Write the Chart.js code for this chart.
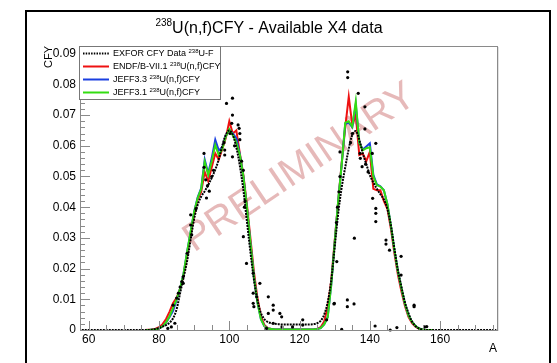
<!DOCTYPE html>
<html><head><meta charset="utf-8">
<script src="https://cdn.jsdelivr.net/npm/chart.js@4.4.0/dist/chart.umd.min.js"></script>
<style>html,body{margin:0;padding:0;background:#fff;overflow:hidden}#wrap{width:557px;height:363px}</style>
</head><body><div id="wrap"><canvas id="c" width="557" height="363"></canvas></div>
<script>
// ---- data ----
const evalA = [76,77,78,79,80,81,82,83,84,85,86,87,88,89,90,91,92,93,94,95,96,97,98,99,100,101,102,103,104,105,106,107,108,109,110,111,112,113,114,115,116,117,118,119,120,121,122,123,124,125,126,127,128,129,130,131,132,133,134,135,136,137,138,139,140,141,142,143,144,145,146,147,148,149,150,151,152,153,154,155,156,157,158];
const endfY = [0,0.0001,0.0002,0.0004,0.0009,0.0019,0.0036,0.0060,0.0088,0.0105,0.0135,0.0180,0.0245,0.0310,0.0375,0.0425,0.0450,0.0515,0.0485,0.0530,0.0575,0.0555,0.0590,0.0625,0.0680,0.0640,0.0650,0.0575,0.0505,0.0410,0.0300,0.0190,0.0105,0.0045,0.0016,0.0006,0.0003,0.0002,0.0002,0.0002,0.0002,0.0002,0.0002,0.0002,0.0002,0.0002,0.0002,0.0002,0.0002,0.0004,0.0009,0.0028,0.0075,0.0160,0.0290,0.0420,0.0545,0.0660,0.0760,0.0668,0.0700,0.0570,0.0575,0.0550,0.0580,0.0460,0.0455,0.0455,0.0420,0.0395,0.0330,0.0250,0.0180,0.0125,0.0078,0.0043,0.0022,0.0011,0.0004,0.0001,0,0,0];
const jeff33Y = [0,0,0.0001,0.0002,0.0005,0.0012,0.0024,0.0042,0.0062,0.0098,0.0135,0.0185,0.0255,0.0320,0.0385,0.0432,0.0462,0.0555,0.0510,0.0560,0.0620,0.0585,0.0595,0.0632,0.0652,0.0640,0.0625,0.0572,0.0500,0.0400,0.0285,0.0175,0.0090,0.0035,0.0012,0.0005,0.0003,0.0002,0.0002,0.0002,0.0002,0.0002,0.0002,0.0002,0.0002,0.0002,0.0002,0.0002,0.0002,0.0003,0.0006,0.0018,0.0042,0.0145,0.0285,0.0420,0.0540,0.0672,0.0675,0.0660,0.0735,0.0610,0.0588,0.0598,0.0608,0.0505,0.0474,0.0468,0.0455,0.0410,0.0340,0.0260,0.0190,0.0136,0.0085,0.0048,0.0026,0.0013,0.0005,0.0002,0,0,0];
const jeff31Y = [0,0,0.0001,0.0002,0.0005,0.0012,0.0025,0.0045,0.0072,0.0100,0.0135,0.0185,0.0255,0.0320,0.0385,0.0430,0.0460,0.0548,0.0505,0.0550,0.0603,0.0570,0.0590,0.0630,0.0654,0.0635,0.0610,0.0570,0.0500,0.0400,0.0285,0.0175,0.0090,0.0035,0.0012,0.0005,0.0003,0.0002,0.0002,0.0002,0.0002,0.0002,0.0002,0.0002,0.0002,0.0002,0.0002,0.0002,0.0002,0.0003,0.0006,0.0018,0.0042,0.0145,0.0285,0.0420,0.0540,0.0675,0.0680,0.0662,0.0744,0.0610,0.0585,0.0592,0.0595,0.0500,0.0472,0.0467,0.0455,0.0410,0.0340,0.0260,0.0190,0.0136,0.0085,0.0048,0.0026,0.0013,0.0005,0.0002,0,0,0];
const exforLineA = [58,60,62,64,66,68,70,72,74,76,77,78,79,80,81,82,83,84,85,86,87,88,89,90,91,92,93,94,95,96,97,98,99,100,101,102,103,104,105,106,107,108,109,110,111,112,113,114,115,116,117,118,119,120,121,122,123,124,125,126,127,128,129,130,131,132,133,134,135,136,137,138,139,140,141,142,143,144,145,146,147,148,149,150,151,152,153,154,155,156,157,158,160,162,164,166,168,170,172,174,176];
const exforLineY = [0,0,0,0,0,0,0,0,0,0,0,0.0001,0.0003,0.0006,0.0011,0.0016,0.0024,0.0038,0.0068,0.0120,0.0172,0.0225,0.0295,0.0362,0.0408,0.0435,0.0452,0.0472,0.0496,0.0522,0.0556,0.0600,0.0636,0.0650,0.0635,0.0595,0.0535,0.0456,0.0355,0.0255,0.0165,0.0098,0.0055,0.0035,0.0026,0.0022,0.0020,0.0019,0.0018,0.0018,0.0018,0.0018,0.0018,0.0018,0.0018,0.0018,0.0018,0.0019,0.0022,0.0030,0.0050,0.0090,0.0160,0.0270,0.0380,0.0465,0.0530,0.0590,0.0635,0.0648,0.0620,0.0575,0.0540,0.0505,0.0480,0.0460,0.0442,0.0425,0.0395,0.0340,0.0265,0.0195,0.0140,0.0090,0.0055,0.0028,0.0013,0.0005,0.0002,0,0,0,0,0,0,0,0,0,0,0,0];
const exforA = [84.0,84.5,85.0,85.5,86.0,86.5,86.9,86.9,83.5,82.5,89.0,89.0,89.3,88.0,90.5,92.8,92.8,93.3,93.8,94.3,93.5,95.0,95.5,98.7,98.7,98.5,99.2,100.9,100.9,100.7,100.2,100.9,101.5,102.5,102.8,103.0,103.0,104.0,103.5,104.5,104.3,104.0,104.9,106.8,106.8,107.8,106.8,107.0,108.7,111.1,112.5,112.5,111.1,114.4,114.9,112.5,120.9,120.9,110.6,115.0,118.0,127.7,129.8,133.6,133.6,135.5,141.5,145.8,147.7,152.6,152.6,156.2,155.6,132.0,133.7,133.7,136.7,138.6,138.6,141.7,140.7,137.2,137.3,137.8,138.8,139.5,131.5,131.5,131.2,140.8,141.7,141.7,141.7,144.6,144.6,145.6,148.9,148.9,135.6,130.6,129.9,130.5,130.8,135.0,134.5];
const exforY = [0.0081,0.0022,0.0104,0.0120,0.0140,0.0158,0.0174,0.0152,0.0010,0.0005,0.0375,0.0342,0.0310,0.0250,0.0395,0.0575,0.0530,0.0489,0.0470,0.0452,0.0430,0.0500,0.0520,0.0586,0.0570,0.0610,0.0738,0.0755,0.0700,0.0673,0.0640,0.0564,0.0600,0.0668,0.0657,0.0640,0.0620,0.0520,0.0550,0.0420,0.0400,0.0304,0.0217,0.0185,0.0120,0.0108,0.0087,0.0076,0.0152,0.0108,0.0081,0.0065,0.0054,0.0054,0.0043,0.0022,0.0033,0.0016,0.0005,0.0010,0.0010,0.0033,0.0085,0.0098,0.0076,0.0085,0.0013,0.0000,0.0008,0.0081,0.0076,0.0011,0.0010,0.0002,0.0841,0.0822,0.0771,0.0727,0.0655,0.0608,0.0575,0.0575,0.0559,0.0532,0.0540,0.0515,0.0580,0.0500,0.0450,0.0429,0.0396,0.0380,0.0353,0.0293,0.0280,0.0260,0.0240,0.0179,0.0299,0.0223,0.0087,0.0350,0.0400,0.0640,0.0610];
const xTickLabels = [60,80,100,120,140,160];
const yTickLabels = [0,0.01,0.02,0.03,0.04,0.05,0.06,0.07,0.08,0.09];
const legendNames = [["EXFOR CFY Data ","238","U-F"],["ENDF/B-VII.1 ","238","U(n,f)CFY"],["JEFF3.3 ","238","U(n,f)CFY"],["JEFF3.1 ","238","U(n,f)CFY"]];

const FONT = '"Liberation Sans", Arial, Helvetica, sans-serif';
const pts = (xs, ys) => xs.map((x, i) => ({x: x, y: ys[i]}));

function richText(ctx, parts, x, y, size, supSize, supRise) {
  // parts: [normal, sup, normal]
  let cx = x;
  parts.forEach((p, i) => {
    const sup = (i === 1);
    ctx.font = (sup ? supSize : size) + 'px ' + FONT;
    ctx.fillText(p, cx, sup ? y - supRise : y);
    cx += ctx.measureText(p).width;
  });
  return cx - x;
}
function richWidth(ctx, parts, size, supSize) {
  let w = 0;
  parts.forEach((p, i) => { ctx.font = (i === 1 ? supSize : size) + 'px ' + FONT; w += ctx.measureText(p).width; });
  return w;
}

const deco = {
  id: 'deco',
  beforeDraw(chart) {
    const ctx = chart.ctx;
    ctx.save(); ctx.fillStyle = '#fff'; ctx.fillRect(0, 0, chart.width, chart.height); ctx.restore();
  },
  beforeDatasetsDraw(chart) {
    const ctx = chart.ctx;
    ctx.save();
    ctx.translate(300, 168);
    ctx.rotate(-34 * Math.PI / 180);
    ctx.font = '40px ' + FONT;
    ctx.fillStyle = 'rgba(190,70,70,0.38)';
    ctx.textAlign = 'center'; ctx.textBaseline = 'middle';
    ctx.fillText('PRELIMINARY', 0, 0);
    ctx.restore();
  },
  afterDatasetsDraw(chart) {
    const ctx = chart.ctx, a = chart.chartArea;
    const xs = chart.scales.x, ys = chart.scales.y;
    ctx.save();
    // frame
    ctx.strokeStyle = '#8a8a8a'; ctx.lineWidth = 1;
    ctx.strokeRect(Math.round(a.left) + 0.5, Math.round(a.top) + 0.5, Math.round(a.right - a.left), Math.round(a.bottom - a.top));
    ctx.strokeStyle = '#e2e2e2';
    ctx.beginPath(); ctx.moveTo(Math.round(a.right) + 1.5, a.top + 1); ctx.lineTo(Math.round(a.right) + 1.5, a.bottom + 1); ctx.stroke();
    // ticks
    ctx.strokeStyle = '#8a8a8a';
    ctx.beginPath();
    for (let v = 0; v <= 0.0925 + 1e-9; v += 0.002) {
      const yy = Math.round(ys.getPixelForValue(v)) + 0.5;
      const major = Math.abs(v / 0.01 - Math.round(v / 0.01)) < 1e-6;
      ctx.moveTo(a.left, yy); ctx.lineTo(a.left + (major ? 10 : 5), yy);
    }
    for (let v = 60; v <= 175; v += 5) {
      const xx = Math.round(xs.getPixelForValue(v)) + 0.5;
      const major = v % 20 === 0;
      ctx.moveTo(xx, a.bottom); ctx.lineTo(xx, a.bottom - (major ? 9 : 5));
    }
    ctx.stroke();
    // tick labels
    ctx.fillStyle = '#000';
    ctx.font = '12px ' + FONT;
    ctx.textAlign = 'right'; ctx.textBaseline = 'middle';
    yTickLabels.forEach(v => ctx.fillText(String(v), a.left - 4, ys.getPixelForValue(v)));
    ctx.textAlign = 'center'; ctx.textBaseline = 'top';
    xTickLabels.forEach(v => ctx.fillText(String(v), xs.getPixelForValue(v), a.bottom + 4));
    // axis titles
    ctx.textAlign = 'right'; ctx.textBaseline = 'middle';
    ctx.fillText('A', a.right, 349);
    ctx.save();
    ctx.translate(49, a.top);
    ctx.rotate(-Math.PI / 2);
    ctx.font = '11px ' + FONT;
    ctx.textAlign = 'right';
    ctx.fillText('CFY', 0, 0);
    ctx.restore();
    // title
    ctx.textAlign = 'left'; ctx.textBaseline = 'alphabetic';
    const tparts = ['', '238', 'U(n,f)CFY - Available X4 data'];
    const tw = richWidth(ctx, tparts, 16, 10);
    richText(ctx, tparts, 269 - tw / 2, 33, 16, 10, 7);
    // legend
    const lx = 79.5, ly = 46.5, lw = 141, lh = 53;
    ctx.fillStyle = '#fff'; ctx.fillRect(lx, ly, lw, lh);
    ctx.strokeStyle = '#777'; ctx.lineWidth = 1; ctx.strokeRect(lx, ly, lw, lh);
    const cols = ['#000', '#ee1111', '#1a3fe0', '#33dd11'];
    legendNames.forEach((parts, i) => {
      const yy = 53.5 + i * 13;
      ctx.save();
      ctx.strokeStyle = cols[i]; ctx.lineWidth = 2;
      if (i === 0) ctx.setLineDash([1.5, 1.2]);
      ctx.beginPath(); ctx.moveTo(83, yy); ctx.lineTo(109, yy); ctx.stroke();
      ctx.restore();
      ctx.fillStyle = '#000'; ctx.textBaseline = 'middle'; ctx.textAlign = 'left';
      richText(ctx, parts, 113, yy + 0.5, 9, 6, 3);
    });
    // outer frame
    ctx.strokeStyle = '#000'; ctx.lineWidth = 2;
    ctx.strokeRect(26, 11, 524, 400);
    ctx.restore();
  }
};

new Chart(document.getElementById('c'), {
  type: 'scatter',
  data: {
    datasets: [
      {label: 'EXFOR points', data: pts(exforA, exforY), showLine: false, pointRadius: 1.6, pointBackgroundColor: '#000', pointBorderWidth: 0, clip: false},
      {label: 'EXFOR CFY Data 238U-F', data: pts(exforLineA, exforLineY), showLine: true, borderColor: '#000', borderWidth: 2, borderDash: [2, 1], pointRadius: 0, tension: 0.35, clip: false},
      {label: 'JEFF3.1 238U(n,f)CFY', data: pts(evalA, jeff31Y), showLine: true, borderColor: '#33dd11', borderWidth: 2, pointRadius: 0, tension: 0, clip: false},
      {label: 'JEFF3.3 238U(n,f)CFY', data: pts(evalA, jeff33Y), showLine: true, borderColor: '#1a3fe0', borderWidth: 2, pointRadius: 0, tension: 0, clip: false},
      {label: 'ENDF/B-VII.1 238U(n,f)CFY', data: pts(evalA, endfY), showLine: true, borderColor: '#ee1111', borderWidth: 2, pointRadius: 0, tension: 0, clip: false}
    ]
  },
  options: {
    responsive: false, animation: false, devicePixelRatio: 1,
    layout: {padding: {left: 80, top: 46, right: 60, bottom: 33}},
    plugins: {legend: {display: false}, title: {display: false}, tooltip: {enabled: false}},
    scales: {
      x: {type: 'linear', min: 57.5, max: 176.2, display: false},
      y: {type: 'linear', min: 0, max: 0.0925, display: false}
    }
  },
  plugins: [deco]
});
</script></body></html>
